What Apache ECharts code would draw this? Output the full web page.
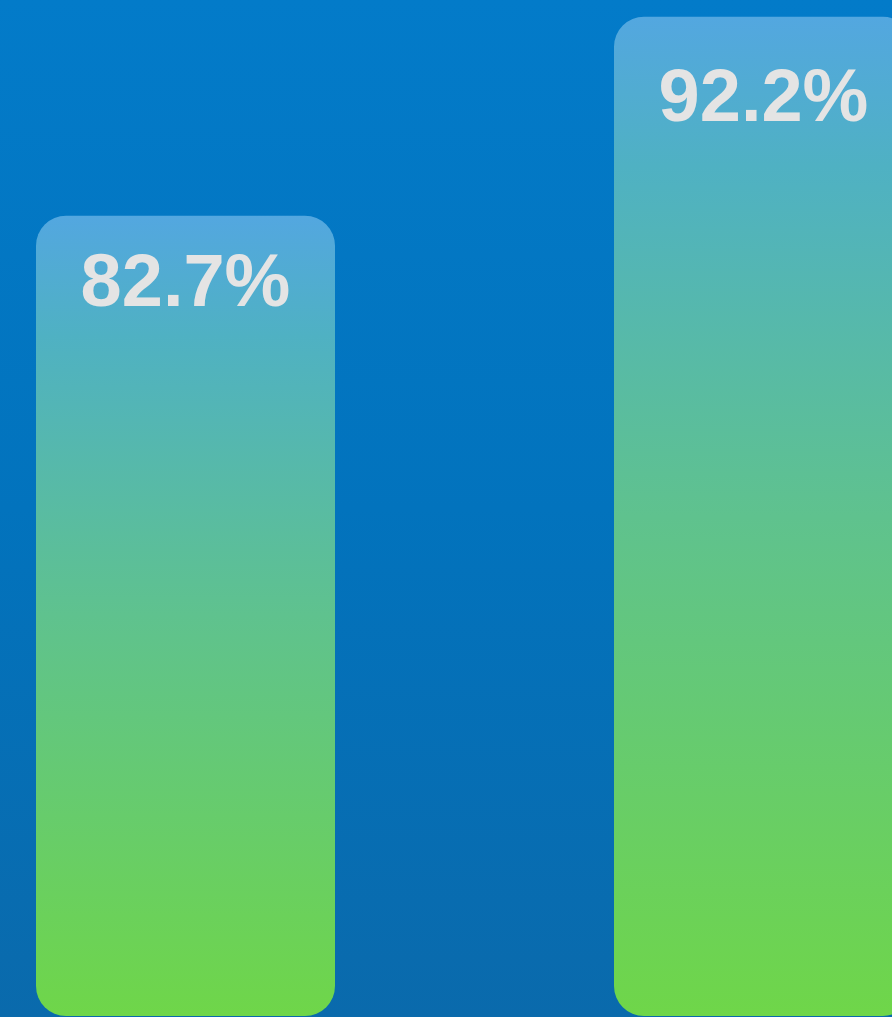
<!DOCTYPE html>
<html style="height: 100%">
<head>
    <meta charset="utf-8">
    <title>ECharts</title>
    <script src="https://cdn.jsdelivr.net/npm/echarts/dist/echarts.min.js"></script>
</head>
<body style="height: 100%; margin: 0; background: linear-gradient(to bottom, #037bc9 0%, #0273bd 50%, #0a6aac 100%);">
    <div id="main" style="width: 892px; height: 1017px"></div>
    <script type="text/javascript">
        // 数据
        var categories = ['A', 'B'];
        var values = [82.7, 92.2];
        var labelGaps = [33, 47];

        var yMin = 44.5;
        var yMax = 93;

        var myChart = echarts.init(document.getElementById('main'));

        // 圆角柱子 + 顶部数值，柱底从坐标轴最小值开始
        function renderBar(params, api) {
            var i = api.value(0);
            var v = api.value(1);
            var top = api.coord([i, v]);
            var base = api.coord([i, yMin]);
            var w = 299;
            return {
                type: 'group',
                children: [
                    {
                        type: 'rect',
                        shape: { x: top[0] - w / 2, y: top[1], width: w, height: base[1] - top[1], r: 30 },
                        style: {
                            fill: new echarts.graphic.LinearGradient(0, 0, 0, 1, [
                                { offset: 0, color: '#53a7e0' },
                                { offset: 0.15, color: '#4fb1c3' },
                                { offset: 0.5, color: '#5fc28e' },
                                { offset: 1, color: '#6fd649' }
                            ])
                        }
                    },
                    {
                        type: 'text',
                        x: top[0],
                        y: top[1] + labelGaps[params.dataIndex],
                        style: {
                            text: v + '%',
                            fill: '#e4e4e4',
                            font: 'bold 74px "Liberation Sans"',
                            align: 'center',
                            verticalAlign: 'top'
                        }
                    }
                ]
            };
        }

        var option = {
            backgroundColor: 'transparent',
            animation: false,
            grid: { left: 185.5, right: 128.5, top: 0, bottom: 1 },
            xAxis: {
                type: 'category',
                data: categories,
                boundaryGap: false,
                show: false
            },
            yAxis: {
                type: 'value',
                min: yMin,
                max: yMax,
                show: false,
                splitLine: { show: false }
            },
            series: [
                {
                    type: 'custom',
                    clip: false,
                    renderItem: renderBar,
                    data: values.map(function (v, i) { return [i, v]; })
                }
            ]
        };

        myChart.setOption(option);
    </script>
</body>
</html>
